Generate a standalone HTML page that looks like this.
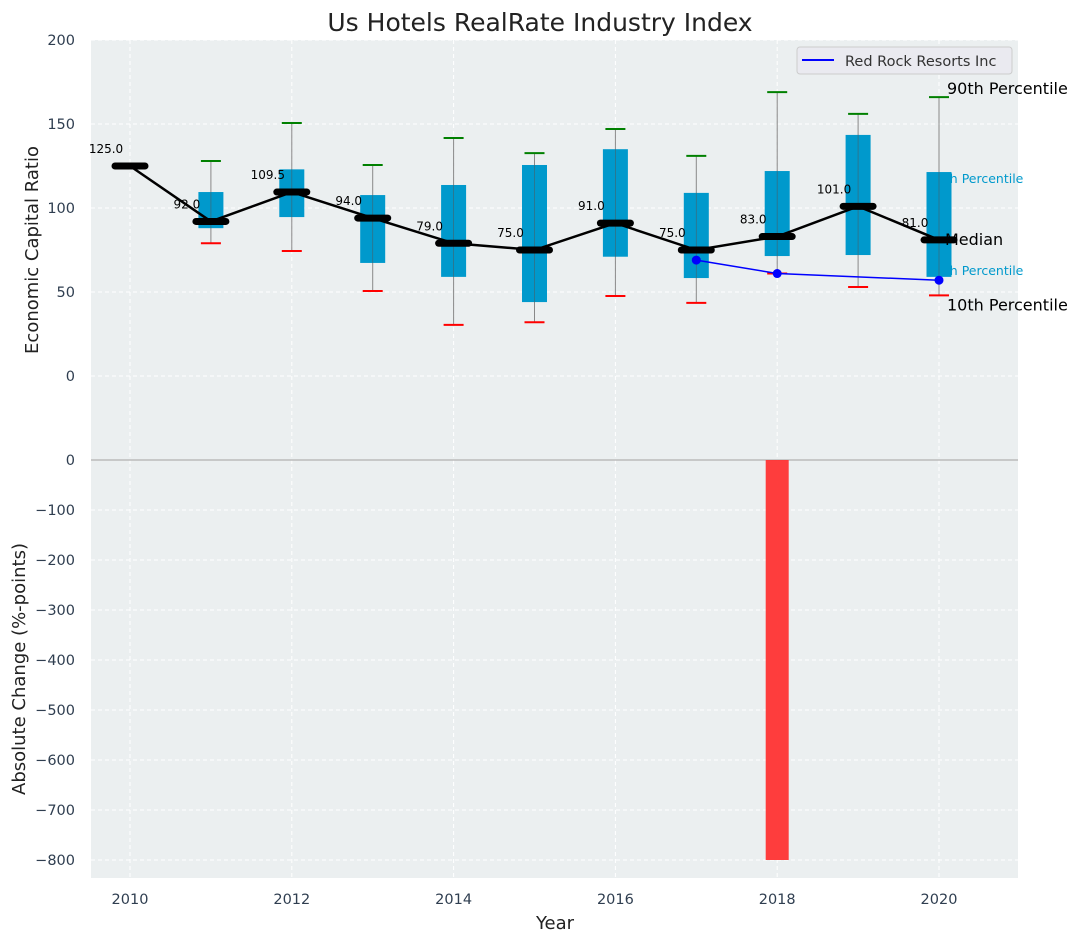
<!DOCTYPE html>
<html><head><meta charset="utf-8"><style>
body{margin:0;background:#fff;font-family:"DejaVu Sans","Liberation Sans",sans-serif}
svg text{font-family:"DejaVu Sans","Liberation Sans",sans-serif}
</style></head><body>
<svg id="c" width="1082" height="942" xmlns="http://www.w3.org/2000/svg"></svg>
<script>
const years=[2010,2011,2012,2013,2014,2015,2016,2017,2018,2019,2020];
const medians=[125,92,109.5,94,79,75,91,75,83,101,81];
const q1=[null,88,94.6,67.3,59,44,71,58.3,71.4,72,59];
const q3=[null,109.5,123,107.7,113.7,125.6,135,109,122,143.5,121.4];
const p10=[null,79,74.4,50.6,30.4,32,47.6,43.5,61,53,48];
const p90=[null,128,150.6,125.6,141.7,132.7,147,131,169,156,166];
const companyYears=[2017,2018,2020];
const companyVals=[69,61,57];
const changeYears=[2018];
const changeVals=[-800];
const topTicks=[0,50,100,150,200];
const botTicks=[0,-100,-200,-300,-400,-500,-600,-700,-800];
const xTicks=[2010,2012,2014,2016,2018,2020];

const NS="http://www.w3.org/2000/svg",svg=document.getElementById('c');
function el(t,a,p){const e=document.createElementNS(NS,t);for(const k in a)e.setAttribute(k,a[k]);(p||svg).appendChild(e);return e;}
const X=v=>130+(v-2010)*80.9;
const YT=v=>376-v*1.68;
const YB=v=>460-v*0.5;
const L=91,R=1018;

let t=el('text',{x:540,y:31,'text-anchor':'middle','font-size':25,fill:'#222'});t.textContent='Us Hotels RealRate Industry Index';


let pt=el('rect',{x:L,y:40,width:R-L,height:419,fill:'#ebeff0'});

let pb=el('rect',{x:L,y:459,width:R-L,height:419,fill:'#ebeff0'});


xTicks.forEach(v=>{el('line',{x1:X(v),x2:X(v),y1:40,y2:878,stroke:'#fff','stroke-dasharray':'4,3','stroke-width':1});
 let tx=el('text',{x:X(v),y:904,'text-anchor':'middle','font-size':14.5,fill:'#2f3e50'});tx.textContent=v;
 });
topTicks.forEach(v=>{el('line',{x1:L,x2:R,y1:YT(v),y2:YT(v),stroke:'#fff','stroke-dasharray':'4,3'});
 let tx=el('text',{x:75,y:YT(v)+5,'text-anchor':'end','font-size':14.5,fill:'#2f3e50'});tx.textContent=v;
 });
botTicks.forEach(v=>{el('line',{x1:L,x2:R,y1:YB(v),y2:YB(v),stroke:'#fff','stroke-dasharray':'4,3'});
 let tx=el('text',{x:75,y:YB(v)+5,'text-anchor':'end','font-size':14.5,fill:'#2f3e50'});tx.textContent=String(v).replace('-','\u2212');
 });
el('line',{x1:L,x2:R,y1:460,y2:460,stroke:'#bbb','stroke-width':1.5});

let s75=el('text',{x:X(2020)-10,y:YT(q3[10])+11,'font-size':12.5,fill:'#0099cc'});s75.textContent='75th Percentile';

let s25=el('text',{x:X(2020)-10,y:YT(q1[10])-2,'font-size':12.5,fill:'#0099cc'});s25.textContent='25th Percentile';


years.forEach((y,i)=>{
 if(q1[i]==null)return;
 const x=X(y);
 let w=el('line',{x1:x,x2:x,y1:YT(p90[i]),y2:YT(p10[i]),stroke:'#888','stroke-width':1});
 
 let b=el('rect',{x:x-12.5,y:YT(q3[i]),width:25,height:YT(q1[i])-YT(q3[i]),fill:'#0099cc'});
 
 el('line',{x1:x,x2:x,y1:YT(q3[i]),y2:YT(q1[i]),stroke:'#555','stroke-width':0.8,opacity:0.6});
 let g=el('line',{x1:x-10,x2:x+10,y1:YT(p90[i]),y2:YT(p90[i]),stroke:'green','stroke-width':2});
 
 let r=el('line',{x1:x-10,x2:x+10,y1:YT(p10[i]),y2:YT(p10[i]),stroke:'red','stroke-width':2});
 
});
let ml=el('polyline',{points:years.map((y,i)=>X(y)+','+YT(medians[i])).join(' '),fill:'none',stroke:'#000','stroke-width':2.5});

years.forEach((y,i)=>{
 let m=el('line',{x1:X(y)-15,x2:X(y)+15,y1:YT(medians[i]),y2:YT(medians[i]),stroke:'#000','stroke-width':7,'stroke-linecap':'round'});
 
 let tx=el('text',{x:X(y)-24,y:YT(medians[i])-13,'text-anchor':'middle','font-size':12,fill:'#000'});tx.textContent=medians[i].toFixed(1);
 
});
let cl=el('polyline',{points:companyYears.map((y,i)=>X(y)+','+YT(companyVals[i])).join(' '),fill:'none',stroke:'#0000ff','stroke-width':1.5});

companyYears.forEach((y,i)=>{let c=el('circle',{cx:X(y),cy:YT(companyVals[i]),r:4.5,fill:'#0000ff'});
 });

[['90th Percentile',p90[10]],['Median',medians[10]],['10th Percentile',p10[10]]].forEach((a,k)=>{
 const yy=k==0?YT(a[1])-3:k==1?YT(a[1])+5:YT(a[1])+15;
 let tx=el('text',{x:k==1?945:947,y:yy,'font-size':16,fill:'#000'});tx.textContent=a[0];
 });

changeYears.forEach((y,i)=>{let b=el('rect',{x:X(y)-11.5,y:YB(0),width:23,height:YB(changeVals[i])-YB(0),fill:'#ff3333',opacity:0.95});
 });

let lg=el('g',{});
el('rect',{x:797,y:47,width:215,height:27,rx:3,fill:'#eaeaf0',stroke:'#ccc'},lg);
el('line',{x1:802,x2:834,y1:60,y2:60,stroke:'#0000ff','stroke-width':2},lg);
let lt=el('text',{x:845,y:66,'font-size':14.5,fill:'#333'},lg);lt.textContent='Red Rock Resorts Inc';

let xt=el('text',{x:555,y:929,'text-anchor':'middle','font-size':18,fill:'#222'});xt.textContent='Year';

let yt=el('text',{x:0,y:0,transform:'translate(38,250) rotate(-90)','text-anchor':'middle','font-size':18,fill:'#222'});yt.textContent='Economic Capital Ratio';

let yb=el('text',{x:0,y:0,transform:'translate(25,669) rotate(-90)','text-anchor':'middle','font-size':18,fill:'#222'});yb.textContent='Absolute Change (%-points)';

</script>
</body></html>
